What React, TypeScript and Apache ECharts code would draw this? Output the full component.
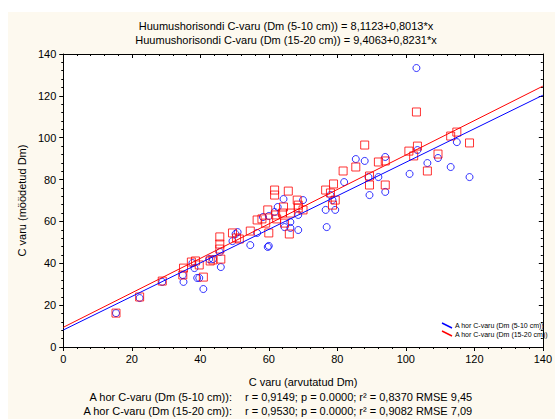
import React, { useEffect, useRef } from 'react';
import * as echarts from 'echarts';

const titleLines = [
  'Huumushorisondi C-varu (Dm (5-10 cm)) = 8,1123+0,8013*x',
  'Huumushorisondi C-varu (Dm (15-20 cm)) = 9,4063+0,8231*x',
];
const seriesNames = ['A hor C-varu (Dm (5-10 cm))', 'A hor C-varu (Dm (15-20 cm))'];
const statsLabels = ['A hor C-varu (Dm (5-10 cm)):', 'A hor C-varu (Dm (15-20 cm)):'];
const statsValues = [
  'r = 0,9149; p = 0.0000; r² = 0,8370 RMSE 9,45',
  'r = 0,9530; p = 0.0000; r² = 0,9082 RMSE 7,09',
];
const xAxisName = 'C varu (arvutatud Dm)';
const yAxisName = 'C varu (möödetud Dm)';

const intercepts = [8.1123, 9.4063];
const slopes = [0.8013, 0.8231];
const lineX = [0, 140];

const blueX = [15.4, 22.3, 28.9, 35.1, 34.9, 37.7, 38.3, 39.1, 39.7, 40.9, 42.6, 43.7, 45.7, 46.0, 50.3, 50.9, 49.4, 54.6, 56.6, 58.3, 59.7, 60.0, 60.0, 61.7, 62.6, 64.3, 64.6, 66.3, 66.3, 68.6, 68.6, 70.0, 76.6, 76.9, 78.0, 79.4, 78.6, 82.0, 85.4, 88.0, 89.1, 89.4, 92.0, 94.0, 94.0, 101.1, 103.1, 103.4, 106.3, 109.4, 113.1, 114.9, 118.6];
const blueY = [16.2, 23.4, 31.1, 31.1, 34.4, 40.1, 37.7, 33.0, 33.0, 27.7, 42.0, 42.0, 45.4, 38.2, 54.0, 54.9, 50.6, 48.7, 54.5, 62.1, 47.8, 48.3, 62.6, 64.5, 66.9, 70.7, 57.3, 59.7, 56.9, 55.9, 63.1, 70.2, 65.5, 57.3, 72.6, 65.5, 70.2, 78.8, 89.8, 88.9, 81.2, 72.6, 81.2, 90.8, 74.1, 82.7, 133.3, 94.1, 87.9, 90.3, 86.0, 97.9, 81.2];

const redX = [15.4, 22.3, 28.9, 35.1, 34.9, 37.4, 38.6, 39.7, 40.9, 42.9, 43.7, 45.7, 45.7, 45.7, 46.0, 49.4, 50.6, 51.4, 54.6, 56.6, 58.0, 59.1, 59.7, 60.0, 61.7, 61.7, 62.0, 62.3, 64.0, 64.3, 64.6, 66.0, 65.7, 66.3, 68.3, 68.6, 68.6, 70.0, 76.6, 78.0, 78.9, 78.6, 79.4, 81.7, 85.4, 88.0, 89.4, 89.4, 92.0, 94.0, 94.0, 100.9, 102.3, 103.4, 103.1, 106.3, 109.4, 113.1, 114.9, 118.6];
const redY = [16.2, 23.9, 31.5, 37.7, 34.4, 40.6, 41.1, 39.2, 33.4, 41.1, 41.6, 52.6, 49.2, 46.8, 42.0, 54.5, 52.1, 51.6, 55.4, 60.7, 61.2, 59.2, 65.5, 54.5, 75.0, 72.6, 63.1, 61.2, 64.0, 66.9, 59.2, 54.0, 74.5, 64.0, 70.2, 67.8, 66.4, 65.5, 75.0, 73.6, 77.9, 67.8, 70.2, 84.1, 86.0, 96.5, 81.7, 77.4, 88.4, 88.9, 77.4, 93.6, 91.3, 96.0, 112.3, 84.1, 92.2, 100.8, 102.7, 97.5];

const BLUE = '#0000ff';
const RED = '#ff0000';
const FONT = '"Liberation Sans", Arial, sans-serif';
const BG = '#fdf9ef';

export default function App() {
  const ref = useRef<HTMLDivElement>(null);
  useEffect(() => {
    if (!ref.current) return;
    const chart = echarts.init(ref.current, undefined, { renderer: 'svg' });
    const gridLeft = 52, gridTop = 42, gridW = 489, gridH = 293;
    const axisCommon = {
      type: 'value' as const,
      min: 0,
      max: 140,
      interval: 20,
      splitLine: { show: false },
      axisLine: { show: true, onZero: false, lineStyle: { color: '#000', width: 1 } },
    };
    const lineData = (i: number) => lineX.map((x) => [x, intercepts[i] + slopes[i] * x]);
    chart.setOption({
      animation: false,
      backgroundColor: BG,
      textStyle: { fontFamily: FONT },
      grid: {
        left: gridLeft, top: gridTop, width: gridW, height: gridH,
        show: true, backgroundColor: '#ffffff', borderWidth: 0,
      },
      xAxis: [
        {
          ...axisCommon,
          position: 'bottom',
          axisTick: { show: true, inside: false, length: 4, lineStyle: { color: '#000' } },
          minorTick: { show: true, splitNumber: 5, length: 2, lineStyle: { color: '#000' } },
          axisLabel: { color: '#000', fontSize: 11, fontFamily: FONT, margin: 6 },
          name: xAxisName,
          nameLocation: 'middle',
          nameGap: 29,
          nameTextStyle: { color: '#000', fontSize: 11, fontFamily: FONT },
        },
        {
          ...axisCommon,
          position: 'top',
          axisTick: { show: true, inside: true, length: 4, lineStyle: { color: '#000' } },
          minorTick: { show: true, splitNumber: 5, length: 2, lineStyle: { color: '#000' } },
          axisLabel: { show: false },
        },
      ],
      yAxis: [
        {
          ...axisCommon,
          position: 'left',
          axisTick: { show: true, inside: false, length: 4, lineStyle: { color: '#000' } },
          minorTick: { show: true, splitNumber: 5, length: 2, lineStyle: { color: '#000' } },
          axisLabel: { color: '#000', fontSize: 11, fontFamily: FONT, margin: 7 },
          name: yAxisName,
          nameLocation: 'middle',
          nameGap: 36,
          nameTextStyle: { color: '#000', fontSize: 11, fontFamily: FONT },
        },
        {
          ...axisCommon,
          position: 'right',
          axisTick: { show: true, inside: true, length: 4, lineStyle: { color: '#000' } },
          minorTick: { show: true, splitNumber: 5, length: 2, lineStyle: { color: '#000' } },
          axisLabel: { show: false },
        },
      ],
      series: [
        {
          name: seriesNames[0],
          type: 'scatter',
          xAxisIndex: 0, yAxisIndex: 0,
          symbol: 'circle',
          symbolSize: 7,
          itemStyle: { color: 'transparent', borderColor: BLUE, borderWidth: 1 },
          data: blueX.map((x, i) => [x, blueY[i]]),
          z: 2,
        },
        {
          name: seriesNames[1],
          type: 'scatter',
          xAxisIndex: 0, yAxisIndex: 0,
          symbol: 'rect',
          symbolSize: 8,
          itemStyle: { color: 'transparent', borderColor: RED, borderWidth: 1 },
          data: redX.map((x, i) => [x, redY[i]]),
          z: 3,
        },
        {
          type: 'line',
          xAxisIndex: 0, yAxisIndex: 0,
          showSymbol: false,
          symbol: 'none',
          lineStyle: { color: BLUE, width: 1 },
          data: lineData(0),
          z: 4,
        },
        {
          type: 'line',
          xAxisIndex: 0, yAxisIndex: 0,
          showSymbol: false,
          symbol: 'none',
          lineStyle: { color: RED, width: 1 },
          data: lineData(1),
          z: 4,
        },
      ],
      graphic: [
        { type: 'text', x: 278, y: 14, style: { text: titleLines[0], fill: '#000', font: `11px ${FONT}`, textAlign: 'center', textVerticalAlign: 'middle' } },
        { type: 'text', x: 278, y: 28, style: { text: titleLines[1], fill: '#000', font: `11px ${FONT}`, textAlign: 'center', textVerticalAlign: 'middle' } },
        { type: 'line', shape: { x1: 434, y1: 311, x2: 444, y2: 316 }, style: { stroke: BLUE, lineWidth: 1.5 }, z: 10 },
        { type: 'text', x: 447, y: 313, style: { text: seriesNames[0], fill: '#000', font: `7px ${FONT}`, textAlign: 'left', textVerticalAlign: 'middle' }, z: 10 },
        { type: 'line', shape: { x1: 434, y1: 319, x2: 444, y2: 324 }, style: { stroke: RED, lineWidth: 1.5 }, z: 10 },
        { type: 'text', x: 447, y: 322, style: { text: seriesNames[1], fill: '#000', font: `7px ${FONT}`, textAlign: 'left', textVerticalAlign: 'middle' }, z: 10 },
        { type: 'text', x: 224, y: 385, style: { text: statsLabels[0], fill: '#000', font: `11px ${FONT}`, textAlign: 'right', textVerticalAlign: 'middle' } },
        { type: 'text', x: 237, y: 385, style: { text: statsValues[0], fill: '#000', font: `11px ${FONT}`, textAlign: 'left', textVerticalAlign: 'middle' } },
        { type: 'text', x: 224, y: 399, style: { text: statsLabels[1], fill: '#000', font: `11px ${FONT}`, textAlign: 'right', textVerticalAlign: 'middle' } },
        { type: 'text', x: 237, y: 399, style: { text: statsValues[1], fill: '#000', font: `11px ${FONT}`, textAlign: 'left', textVerticalAlign: 'middle' } },
      ],
    });
    return () => chart.dispose();
  }, []);
  return (
    <div
      ref={ref}
      style={{ position: 'absolute', left: 8, top: 12, width: 547, height: 407 }}
    />
  );
}
